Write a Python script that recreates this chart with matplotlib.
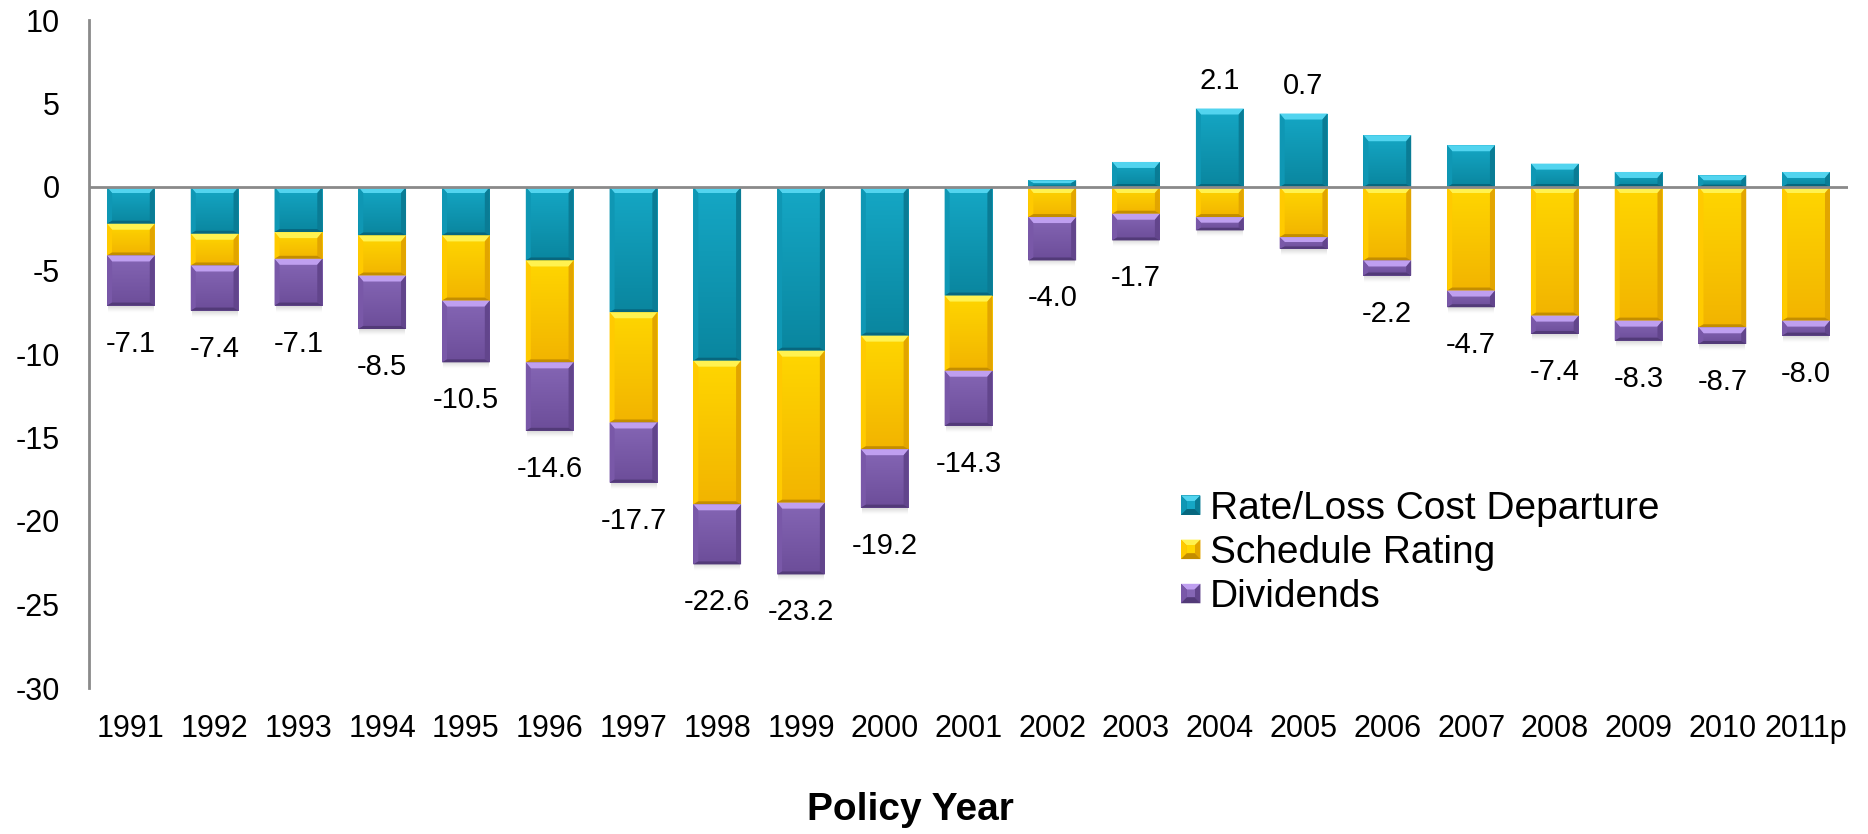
import matplotlib
matplotlib.use("Agg")
import matplotlib.pyplot as plt
import numpy as np
from matplotlib.patches import Polygon, Patch
from matplotlib.legend_handler import HandlerBase
from matplotlib.colors import to_rgb

plt.rcParams['font.family'] = ['Liberation Sans', 'DejaVu Sans']

# ---- data -------------------------------------------------------------
years = ["1991", "1992", "1993", "1994", "1995", "1996", "1997", "1998",
         "1999", "2000", "2001", "2002", "2003", "2004", "2005", "2006",
         "2007", "2008", "2009", "2010", "2011p"]
rate_departure = [-2.2, -2.8, -2.7, -2.9, -2.9, -4.4, -7.5, -10.4, -9.8, -8.9,
                  -6.5, 0.4, 1.5, 4.7, 4.4, 3.1, 2.5, 1.4, 0.9, 0.7, 0.9]
schedule_rating = [-1.9, -1.9, -1.6, -2.4, -3.9, -6.1, -6.6, -8.6, -9.1, -6.8,
                   -4.5, -1.8, -1.6, -1.8, -3.0, -4.4, -6.2, -7.7, -8.0, -8.4, -8.0]
dividends = [-3.0, -2.7, -2.8, -3.2, -3.7, -4.1, -3.6, -3.6, -4.3, -3.5,
             -3.3, -2.6, -1.6, -0.8, -0.7, -0.9, -1.0, -1.1, -1.2, -1.0, -0.9]
series_labels = ["Rate/Loss Cost Departure", "Schedule Rating", "Dividends"]
y_ticks = [10, 5, 0, -5, -10, -15, -20, -25, -30]
x_title = "Policy Year"

# ---- bevel shading per series ------------------------------------------
shades = [
    dict(grad_top="#15a7c5", grad_bot="#0a869f", top="#52d4ef", left="#0f97b4",
         right="#0a7c95", bottom="#07677e"),
    dict(grad_top="#ffd600", grad_bot="#f2b400", top="#fff250", left="#ffca00",
         right="#e2a500", bottom="#c38d00"),
    dict(grad_top="#8566b5", grad_bot="#6c4d99", top="#bf9ff0", left="#7958a8",
         right="#62458c", bottom="#523a78"),
]

# ---- figure / axes geometry (pixels) -----------------------------------
FIG_W, FIG_H = 1868, 834
AX_L, AX_R, AX_T, AX_B = 89, 1848, 20, 688
fig = plt.figure(figsize=(FIG_W / 100, FIG_H / 100), dpi=100)
ax = fig.add_axes([AX_L / FIG_W, 1 - AX_B / FIG_H,
                   (AX_R - AX_L) / FIG_W, (AX_B - AX_T) / FIG_H])

n = len(years)
x = np.arange(n)
x_lo, x_hi = -0.5, n - 0.5
y_lo, y_hi = -30, 10
px = (x_hi - x_lo) / (AX_R - AX_L)   # data units per pixel, x
py = (y_hi - y_lo) / (AX_B - AX_T)   # data units per pixel, y

rate = np.array(rate_departure)
sched = np.array(schedule_rating)
divs = np.array(dividends)

sched_base = np.minimum(rate, 0)
div_base = sched_base + sched
bar_w = 0.57

containers = [
    ax.bar(x, rate, width=bar_w, color=shades[0]["grad_top"], linewidth=0, zorder=2),
    ax.bar(x, sched, width=bar_w, bottom=sched_base, color=shades[1]["grad_top"], linewidth=0, zorder=2),
    ax.bar(x, divs, width=bar_w, bottom=div_base, color=shades[2]["grad_top"], linewidth=0, zorder=2),
]


def vertical_gradient(c_top, c_bot, n_steps=64):
    a, b = np.array(to_rgb(c_top)), np.array(to_rgb(c_bot))
    t = np.linspace(0, 1, n_steps)[:, None]
    return (a * (1 - t) + b * t)[:, None, :]


def decorate(rect, sh):
    x0, w = rect.get_x(), rect.get_width()
    ya, yb = rect.get_y(), rect.get_y() + rect.get_height()
    lo, hi = min(ya, yb), max(ya, yb)
    hgt = hi - lo
    if hgt <= 0:
        return
    # body gradient
    im = ax.imshow(vertical_gradient(sh["grad_top"], sh["grad_bot"]),
                   extent=(x0, x0 + w, lo, hi), aspect="auto",
                   interpolation="bilinear", zorder=2.1)
    im.set_clip_path(rect)
    # bevel edges
    t = min(6 * py, hgt * 0.42)
    b = min(3 * py, hgt * 0.2)
    s = 5 * px
    pieces = [
        ([(x0, hi), (x0 + w, hi), (x0 + w - s, hi - t), (x0 + s, hi - t)], sh["top"]),
        ([(x0, hi), (x0 + s, hi - t), (x0 + s, lo + b), (x0, lo)], sh["left"]),
        ([(x0 + w, hi), (x0 + w - s, hi - t), (x0 + w - s, lo + b), (x0 + w, lo)], sh["right"]),
        ([(x0, lo), (x0 + w, lo), (x0 + w - s, lo + b), (x0 + s, lo + b)], sh["bottom"]),
    ]
    for pts, col in pieces:
        ax.add_patch(Polygon(pts, closed=True, facecolor=col, edgecolor="none",
                             linewidth=0, zorder=2.2))


for cont, sh in zip(containers, shades):
    for rect in cont.patches:
        decorate(rect, sh)

# soft drop shadow under each stack
stack_bottom = div_base + divs
shadow = np.zeros((16, 1, 4))
shadow[:, 0, :3] = 0.45
shadow[:, 0, 3] = np.linspace(0.35, 0.0, 16) ** 1.3
for xi, yb in zip(x, stack_bottom):
    ax.imshow(shadow, extent=(xi - bar_w / 2 + px, xi + bar_w / 2 - px, yb - 7 * py, yb),
              aspect="auto", interpolation="bilinear", zorder=1.5)

# totals above/below each stack
totals = np.round(rate + sched + divs, 1)
pt = 72 / 100
for xi, tot, r, yb in zip(x, totals, rate, stack_bottom):
    if tot >= 0:
        ax.annotate(f"{tot:.1f}", (xi, max(r, 0)), xytext=(0, 28 * pt),
                    textcoords="offset points", ha="center", va="center", fontsize=21)
    else:
        ax.annotate(f"{tot:.1f}", (xi, yb), xytext=(0, -38 * pt),
                    textcoords="offset points", ha="center", va="center", fontsize=21)

# axes styling
ax.axhline(0, color="#8a8a8a", linewidth=2, zorder=3)
for side in ["top", "right", "bottom"]:
    ax.spines[side].set_visible(False)
ax.spines["left"].set_color("#8a8a8a")
ax.spines["left"].set_linewidth(2)
ax.set_xticks(x)
ax.set_xticklabels(years)
ax.set_yticks(y_ticks)
ax.set_yticklabels([str(v) for v in y_ticks])
ax.tick_params(axis="both", length=0, labelsize=22)
ax.tick_params(axis="y", pad=21)
ax.tick_params(axis="x", pad=19)
ax.set_xlim(x_lo, x_hi)
ax.set_ylim(y_lo, y_hi)

fig.text(910 / FIG_W, 1 - 820 / FIG_H, x_title, ha="center", va="baseline",
         fontsize=28, fontweight="bold")


# legend with bevelled swatches
class BevelSquare(HandlerBase):
    def __init__(self, sh):
        super().__init__()
        self.sh = sh

    def create_artists(self, legend, orig_handle, xdescent, ydescent,
                       width, height, fontsize, trans):
        s = min(width, height)
        x0 = -xdescent + (width - s) / 2
        y0 = -ydescent + (height - s) / 2
        e = s * 0.3
        sh = self.sh
        pieces = [
            ([(x0, y0), (x0 + s, y0), (x0 + s, y0 + s), (x0, y0 + s)], sh["grad_bot"]),
            ([(x0, y0 + s), (x0 + s, y0 + s), (x0 + s - e, y0 + s - e), (x0 + e, y0 + s - e)], sh["top"]),
            ([(x0, y0), (x0 + e, y0 + e), (x0 + e, y0 + s - e), (x0, y0 + s)], sh["left"]),
            ([(x0 + s, y0), (x0 + s - e, y0 + e), (x0 + s - e, y0 + s - e), (x0 + s, y0 + s)], sh["right"]),
            ([(x0, y0), (x0 + s, y0), (x0 + s - e, y0 + e), (x0 + e, y0 + e)], sh["bottom"]),
            ([(x0 + e, y0 + e), (x0 + s - e, y0 + e), (x0 + s - e, y0 + s - e), (x0 + e, y0 + s - e)], sh["grad_top"]),
        ]
        return [Polygon(pts, closed=True, facecolor=col, edgecolor="none", transform=trans)
                for pts, col in pieces]


handles = [Patch(facecolor=sh["grad_top"]) for sh in shades]
ax.legend(handles, series_labels,
          handler_map={h: BevelSquare(sh) for h, sh in zip(handles, shades)},
          loc="upper left", bbox_to_anchor=(1181 / FIG_W, 1 - 491 / FIG_H),
          bbox_transform=fig.transFigure, frameon=False, fontsize=28,
          handlelength=0.5, handleheight=0.5, handletextpad=0.25,
          labelspacing=0.21, borderpad=0, borderaxespad=0)

fig.savefig("out.png", dpi=100)
